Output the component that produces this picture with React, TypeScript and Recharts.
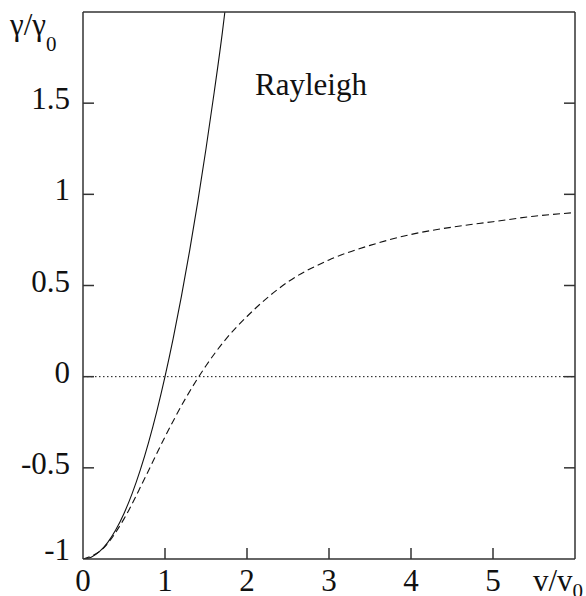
import React from "react";
import { LineChart, Line, XAxis, YAxis, ReferenceLine } from "recharts";

// Normalised speed v/v0 at which each curve is sampled
const solidV = [0, 0.1, 0.2, 0.3, 0.4, 0.5, 0.6, 0.7, 0.8, 0.9, 1.0, 1.1, 1.2, 1.3, 1.4, 1.5, 1.6, 1.7, 1.73];
// Growth rate γ/γ0 (solid curve)
const solidGamma = [-1, -0.99, -0.96, -0.91, -0.84, -0.75, -0.64, -0.51, -0.36, -0.19, 0, 0.21, 0.44, 0.69, 0.96, 1.25, 1.56, 1.89, 2.0];

const dashedV = [0, 0.25, 0.5, 0.75, 1.0, 1.25, 1.5, 1.75, 2.0, 2.5, 3.0, 3.5, 4.0, 4.5, 5.0, 5.5, 6.0];
// Growth rate γ/γ0 (dashed curve)
const dashedGamma = [-1, -0.94, -0.78, -0.56, -0.33, -0.12, 0.06, 0.21, 0.33, 0.52, 0.64, 0.72, 0.78, 0.82, 0.85, 0.88, 0.9];

const xTicks = [0, 1, 2, 3, 4, 5, 6];
const yTicks = [-1, -0.5, 0, 0.5, 1, 1.5, 2];
const yTickLabels = ["-1", "-0.5", "0", "0.5", "1", "1.5", ""];

const solidData = solidV.map((v, i) => ({ v, g: solidGamma[i] }));
const dashedData = dashedV.map((v, i) => ({ v, g: dashedGamma[i] }));

const SERIF = "Times New Roman";
const INK = "#111";
const FRAME = "#333";
const TICK_LEN = 11;

const BottomTick = (props: any) => {
  const { x, y, payload } = props;
  const value = payload.value;
  if (value === 6) {
    return (
      <g>
        <text x={583} y={591} textAnchor="end" fontFamily={SERIF} fontSize={31} fill={INK}>
          v/v
          <tspan fontSize={21} dy={7}>0</tspan>
        </text>
      </g>
    );
  }
  return (
    <g>
      {value !== 0 && <line x1={x} y1={y} x2={x} y2={y - TICK_LEN} stroke={FRAME} strokeWidth={1.5} />}
      <text x={x} y={591} textAnchor="middle" fontFamily={SERIF} fontSize={31} fill={INK}>
        {String(value)}
      </text>
    </g>
  );
};

const TopTick = (props: any) => {
  const { x, y, payload } = props;
  if (payload.value === 0 || payload.value === 6) return <g />;
  return <line x1={x} y1={y} x2={x} y2={y + TICK_LEN} stroke={FRAME} strokeWidth={1.5} />;
};

const LeftTick = (props: any) => {
  const { x, y, payload } = props;
  const value = payload.value;
  if (value === 2) {
    return (
      <g>
        <text x={10} y={35} textAnchor="start" fontFamily={SERIF} fontSize={31} fill={INK}>
          γ/γ
          <tspan fontSize={21} dy={16}>0</tspan>
        </text>
      </g>
    );
  }
  const label = yTickLabels[yTicks.indexOf(value)] ?? String(value);
  const dy = value === -1 ? 1 : 6;
  return (
    <g>
      {value !== -1 && <line x1={x} y1={y} x2={x + TICK_LEN} y2={y} stroke={FRAME} strokeWidth={1.5} />}
      <text x={70} y={y + dy} textAnchor="end" fontFamily={SERIF} fontSize={31} fill={INK}>
        {label}
      </text>
    </g>
  );
};

const RightTick = (props: any) => {
  const { x, y, payload } = props;
  if (payload.value === -1 || payload.value === 2) return <g />;
  return <line x1={x} y1={y} x2={x - TICK_LEN} y2={y} stroke={FRAME} strokeWidth={1.5} />;
};

export default function App() {
  return (
    <div style={{ position: "absolute", left: 0, top: 0, background: "#fff" }}>
      <LineChart width={586} height={596} margin={{ top: 0, right: 0, bottom: 0, left: 0 }}>
        <XAxis
          dataKey="v"
          type="number"
          domain={[0, 6]}
          ticks={xTicks}
          height={37}
          tickSize={0}
          tickMargin={0}
          tick={<BottomTick />}
          axisLine={{ stroke: FRAME, strokeWidth: 1.5 }}
          tickLine={false}
          allowDataOverflow
        />
        <XAxis
          xAxisId="top"
          orientation="top"
          type="number"
          domain={[0, 6]}
          ticks={xTicks}
          height={12}
          tickSize={0}
          tickMargin={0}
          tick={<TopTick />}
          axisLine={{ stroke: FRAME, strokeWidth: 1.5 }}
          tickLine={false}
          allowDataOverflow
        />
        <YAxis
          type="number"
          domain={[-1, 2]}
          ticks={yTicks}
          width={83}
          tickSize={0}
          tickMargin={0}
          tick={<LeftTick />}
          axisLine={{ stroke: FRAME, strokeWidth: 1.5 }}
          tickLine={false}
          allowDataOverflow
        />
        <YAxis
          yAxisId="right"
          orientation="right"
          type="number"
          domain={[-1, 2]}
          ticks={yTicks}
          width={11}
          tickSize={0}
          tickMargin={0}
          tick={<RightTick />}
          axisLine={{ stroke: FRAME, strokeWidth: 1.5 }}
          tickLine={false}
          allowDataOverflow
        />
        <ReferenceLine y={0} stroke={INK} strokeWidth={1} strokeDasharray="1.5 2.5" />
        <Line
          data={solidData}
          dataKey="g"
          type="monotone"
          stroke={INK}
          strokeWidth={1.1}
          dot={false}
          activeDot={false}
          isAnimationActive={false}
        />
        <Line
          data={dashedData}
          dataKey="g"
          type="monotone"
          stroke={INK}
          strokeWidth={1.1}
          strokeDasharray="7 4"
          dot={false}
          activeDot={false}
          isAnimationActive={false}
        />
        <text x={255} y={95} fontFamily={SERIF} fontSize={31} fill={INK}>
          Rayleigh
        </text>
      </LineChart>
    </div>
  );
}
